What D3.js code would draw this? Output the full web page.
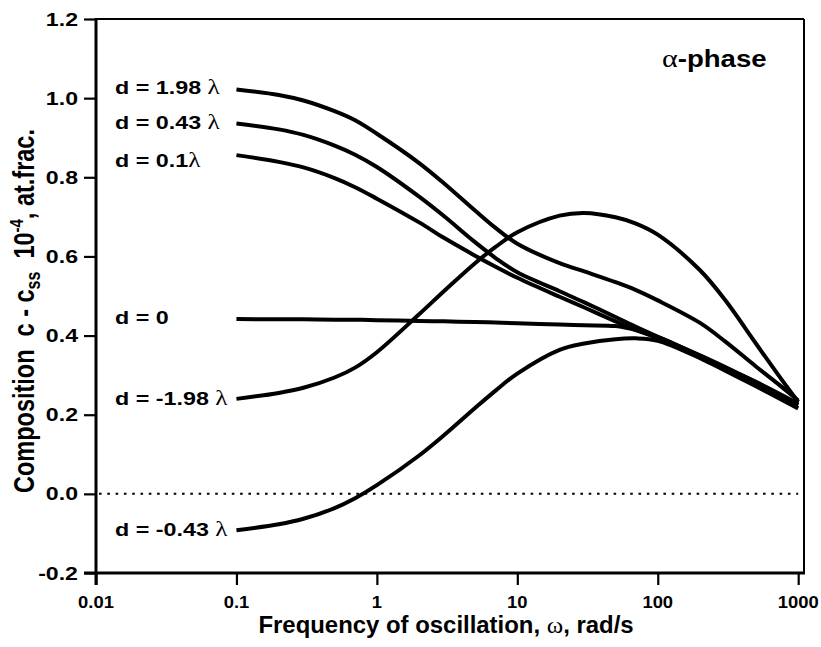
<!DOCTYPE html>
<html lang="en">
<head>
<meta charset="UTF-8">
<script src="https://d3js.org/d3.v7.min.js"></script>
<style>
  body { margin: 0; background: #fff; }
  text { font-family: "Liberation Sans", Arial, sans-serif; font-weight: bold; fill: #000; white-space: pre; }
  .greek { font-family: "Liberation Serif", "Times New Roman", serif; font-weight: normal; }
</style>
</head>
<body>
<script>
// frequency points, rad/s
var omega = [0.1, 0.2, 0.3, 0.5, 0.7, 1, 2, 3, 5, 7, 10, 20, 30, 50, 70, 100, 200, 300, 500, 700, 1000];

// composition c - css (x 10^-4) for each d
var d198  = [1.022, 1.008, 0.994, 0.967, 0.944, 0.910, 0.836, 0.785, 0.716, 0.672, 0.632, 0.583, 0.562, 0.535, 0.515, 0.489, 0.432, 0.386, 0.322, 0.281, 0.236];
var d043  = [0.936, 0.921, 0.907, 0.880, 0.857, 0.826, 0.751, 0.702, 0.636, 0.596, 0.560, 0.512, 0.484, 0.447, 0.422, 0.397, 0.350, 0.321, 0.283, 0.257, 0.228];
var d01   = [0.856, 0.839, 0.825, 0.798, 0.775, 0.746, 0.686, 0.647, 0.602, 0.574, 0.546, 0.498, 0.471, 0.436, 0.414, 0.393, 0.347, 0.319, 0.282, 0.255, 0.226];
var d0    = [0.442, 0.441, 0.441, 0.440, 0.440, 0.439, 0.437, 0.436, 0.434, 0.433, 0.431, 0.428, 0.426, 0.424, 0.414, 0.397, 0.349, 0.319, 0.279, 0.252, 0.224];
var dm198 = [0.240, 0.255, 0.268, 0.294, 0.319, 0.358, 0.454, 0.512, 0.583, 0.624, 0.661, 0.703, 0.710, 0.699, 0.683, 0.655, 0.565, 0.491, 0.380, 0.307, 0.232];
var dm043 = [-0.092, -0.077, -0.063, -0.036, -0.011, 0.022, 0.097, 0.148, 0.217, 0.261, 0.304, 0.364, 0.380, 0.391, 0.393, 0.387, 0.343, 0.312, 0.272, 0.245, 0.216];

var curveLabels = ["d = 1.98 ", "d = 0.43 ", "d = 0.1", "d = 0", "d = -1.98 ", "d = -0.43 "];
var curveLambda = [true, true, true, false, true, true];
var seriesList = [d198, d043, d01, d0, dm198, dm043];

var xTicks = [0.01, 0.1, 1, 10, 100, 1000];
var xTickLabels = ["0.01", "0.1", "1", "10", "100", "1000"];
var yTicks = [-0.2, 0, 0.2, 0.4, 0.6, 0.8, 1.0, 1.2];
var yTickLabels = ["-0.2", "0.0", "0.2", "0.4", "0.6", "0.8", "1.0", "1.2"];

var W = 821, H = 647;
var pLeft = 96, pRight = 804, pTop = 19, pBottom = 573;

var svg = d3.select("body").append("svg")
    .attr("width", W)
    .attr("height", H);

var x = d3.scaleLog().domain([0.01, 1100]).range([pLeft, pRight]);
var y = d3.scaleLinear().domain([-0.2, 1.2]).range([pBottom, pTop]);

// minor ticks
var xMinor = [];
for (var e = -2; e < 3; e++) {
    for (var m = 2; m <= 9; m++) xMinor.push(m * Math.pow(10, e));
}
var yMinor = d3.range(-0.1, 1.2, 0.2);

// frame
svg.append("line").attr("x1", pLeft).attr("x2", pRight).attr("y1", pTop).attr("y2", pTop)
    .attr("stroke", "#000").attr("stroke-width", 2);
svg.append("line").attr("x1", pRight).attr("x2", pRight).attr("y1", pTop).attr("y2", pBottom)
    .attr("stroke", "#000").attr("stroke-width", 2);

// x axis
var gx = svg.append("g").attr("transform", "translate(0," + pBottom + ")");
gx.call(d3.axisBottom(x).tickValues(xMinor).tickSize(6).tickFormat(""));
gx.call(d3.axisBottom(x).tickValues(xTicks).tickSize(12).tickFormat(""));
gx.selectAll(".domain").remove();
gx.selectAll("line").attr("stroke", "#000").attr("stroke-width", 2.2);
gx.append("line").attr("x1", pLeft - 12).attr("x2", pRight + 1).attr("stroke", "#000").attr("stroke-width", 3);

xTicks.forEach(function (t, i) {
    svg.append("text")
        .attr("transform", "translate(" + x(t) + ",608) scale(1.15,1)")
        .attr("text-anchor", "middle")
        .style("font-size", "16px")
        .text(xTickLabels[i]);
});

// y axis
var gy = svg.append("g").attr("transform", "translate(" + pLeft + ",0)");
gy.call(d3.axisLeft(y).tickValues(yMinor).tickSize(6).tickFormat(""));
gy.call(d3.axisLeft(y).tickValues(yTicks).tickSize(12).tickFormat(""));
gy.selectAll(".domain").remove();
gy.selectAll("line").attr("stroke", "#000").attr("stroke-width", 2.2);
gy.append("line").attr("y1", pTop - 1).attr("y2", pBottom + 12).attr("stroke", "#000").attr("stroke-width", 3);

yTicks.forEach(function (t, i) {
    svg.append("text")
        .attr("transform", "translate(78," + (y(t) + 6.6) + ") scale(1.25,1)")
        .attr("text-anchor", "end")
        .style("font-size", "18.5px")
        .text(yTickLabels[i]);
});

// zero line
svg.append("line")
    .attr("x1", pLeft + 3).attr("x2", x(1000))
    .attr("y1", y(0)).attr("y2", y(0))
    .attr("stroke", "#000").attr("stroke-width", 2)
    .attr("stroke-dasharray", "2.6,5.7");

// curves
var line = d3.line()
    .x(function (d) { return x(d[0]); })
    .y(function (d) { return y(d[1]); })
    .curve(d3.curveCatmullRom.alpha(0.5));

seriesList.forEach(function (s) {
    svg.append("path")
        .datum(omega.map(function (w, i) { return [w, s[i]]; }))
        .attr("d", line)
        .attr("fill", "none")
        .attr("stroke", "#000")
        .attr("stroke-width", 4)
        .attr("stroke-linejoin", "round");
});

// curve labels
var labelBase = [93.5, 128.5, 166.5, 323.5, 405, 536];
curveLabels.forEach(function (lab, i) {
    var t = svg.append("text")
        .attr("transform", "translate(115," + labelBase[i] + ") scale(1.26,1)")
        .style("font-size", "18.5px");
    t.append("tspan").text(lab);
    if (curveLambda[i]) t.append("tspan").attr("class", "greek").style("font-size", "20px").text("λ");
});

// phase label
var ph = svg.append("text")
    .attr("transform", "translate(662,67) scale(1.2,1)")
    .style("font-size", "23px");
ph.append("tspan").attr("class", "greek").style("font-size", "25px").text("α");
ph.append("tspan").text("-phase");

// x title
var xt = svg.append("text")
    .attr("transform", "translate(446,633) scale(1.04,1)")
    .attr("text-anchor", "middle")
    .style("font-size", "23px");
xt.append("tspan").text("Frequency of oscillation, ");
xt.append("tspan").attr("class", "greek").style("font-size", "24px").text("ω");
xt.append("tspan").text(", rad/s");

// y title
var yt = svg.append("text")
    .attr("transform", "translate(34,493) rotate(-90) scale(1,1.23)")
    .style("font-size", "23.5px");
yt.append("tspan").text("Composition  c - c");
yt.append("tspan").attr("dy", 5).style("font-size", "16px").text("ss");
yt.append("tspan").attr("dy", -5).text("  10");
yt.append("tspan").attr("dy", -9).style("font-size", "15px").text("-4");
yt.append("tspan").attr("dy", 9).text(", at.frac.");
</script>
</body>
</html>
